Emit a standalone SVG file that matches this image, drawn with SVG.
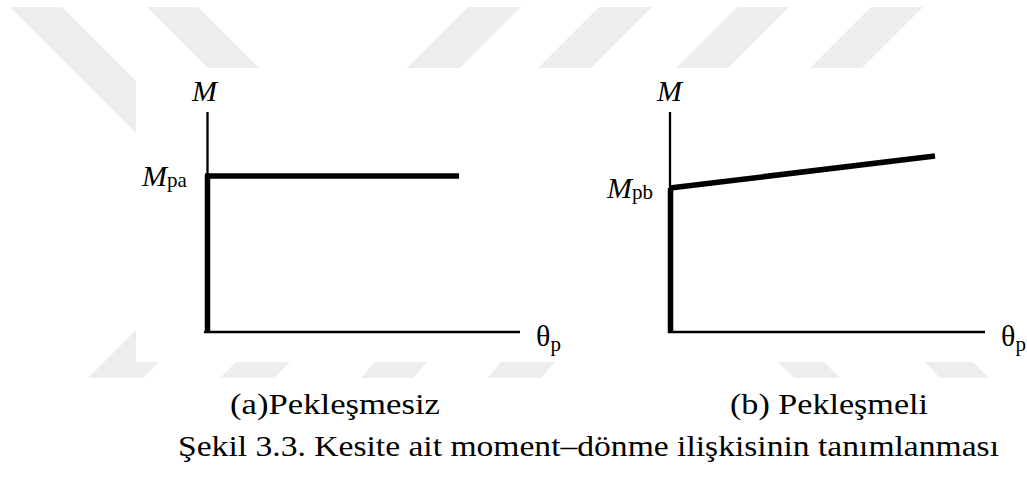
<svg xmlns="http://www.w3.org/2000/svg" width="1027" height="486" viewBox="0 0 1027 486">
<style>
.wm{fill:#ededed}
.ax{stroke:#000;stroke-width:2.3;fill:none}
.th{stroke:#000;stroke-width:5.5;fill:none}
.mi{font-family:"Liberation Serif",serif;font-style:italic;font-size:30px;fill:#000}
.sub{font-family:"Liberation Serif",serif;font-size:21px;fill:#000}
.gr{font-family:"Liberation Serif",serif;font-size:30px;fill:#000}
.cap{font-family:"Liberation Serif",serif;font-size:29px;fill:#000}
</style>
<rect width="1027" height="486" fill="#fff"/>
<g id="watermark">
<polygon class="wm" points="10,7 62,7 195,140 143,140"/>
<polygon class="wm" points="147,7 198,7 259,68 208,68"/>
<polygon class="wm" points="468,7 521,7 460,68 407,68"/>
<polygon class="wm" points="599,7 652,7 591,68 538,68"/>
<polygon class="wm" points="737,7 789,7 728,68 676,68"/>
<polygon class="wm" points="871,7 923,7 862,68 810,68"/>
<polygon class="wm" points="136,330 191,330 143,378 88,378"/>
<polygon class="wm" points="236,362 290,362 274,378 220,378"/>
<polygon class="wm" points="375,362 427,362 413,378 361,378"/>
<polygon class="wm" points="501,362 555,362 541,378 488,378"/>
<polygon class="wm" points="778,362 824,362 840,378 794,378"/>
<polygon class="wm" points="925,362 973,362 989,378 940,378"/>
<rect x="136" y="68" width="891" height="294" fill="#fff"/>
</g>
<g id="chart-a">
<line class="ax" x1="207.5" y1="112" x2="207.5" y2="333"/>
<line class="ax" x1="204" y1="332" x2="520" y2="332"/>
<line class="th" x1="207.5" y1="175" x2="207.5" y2="333"/>
<line class="th" x1="205" y1="176" x2="459" y2="176"/>
<text class="mi" x="192" y="101">M</text>
<text x="142" y="186"><tspan class="mi">M</tspan><tspan class="sub" dy="1">pa</tspan></text>
<text x="536" y="346"><tspan class="gr">θ</tspan><tspan class="sub" dy="5" font-size="19">p</tspan></text>
</g>
<g id="chart-b">
<line class="ax" x1="670" y1="112" x2="670" y2="333"/>
<line class="ax" x1="668" y1="332" x2="985" y2="332"/>
<line class="th" x1="670.5" y1="188" x2="670.5" y2="333"/>
<line class="th" x1="670" y1="188" x2="935" y2="156"/>
<text class="mi" x="657" y="101">M</text>
<text x="607" y="198"><tspan class="mi">M</tspan><tspan class="sub" dy="1">pb</tspan></text>
<text x="1001" y="346"><tspan class="gr">θ</tspan><tspan class="sub" dy="5" font-size="19">p</tspan></text>
</g>
<g id="captions">
<text class="cap" x="230" y="414" textLength="210" lengthAdjust="spacingAndGlyphs">(a)Pekleşmesiz</text>
<text class="cap" x="730" y="414" textLength="198" lengthAdjust="spacingAndGlyphs">(b) Pekleşmeli</text>
<text class="cap" x="178" y="456" textLength="821" lengthAdjust="spacingAndGlyphs">Şekil 3.3. Kesite ait moment–dönme ilişkisinin tanımlanması</text>
</g>
</svg>
